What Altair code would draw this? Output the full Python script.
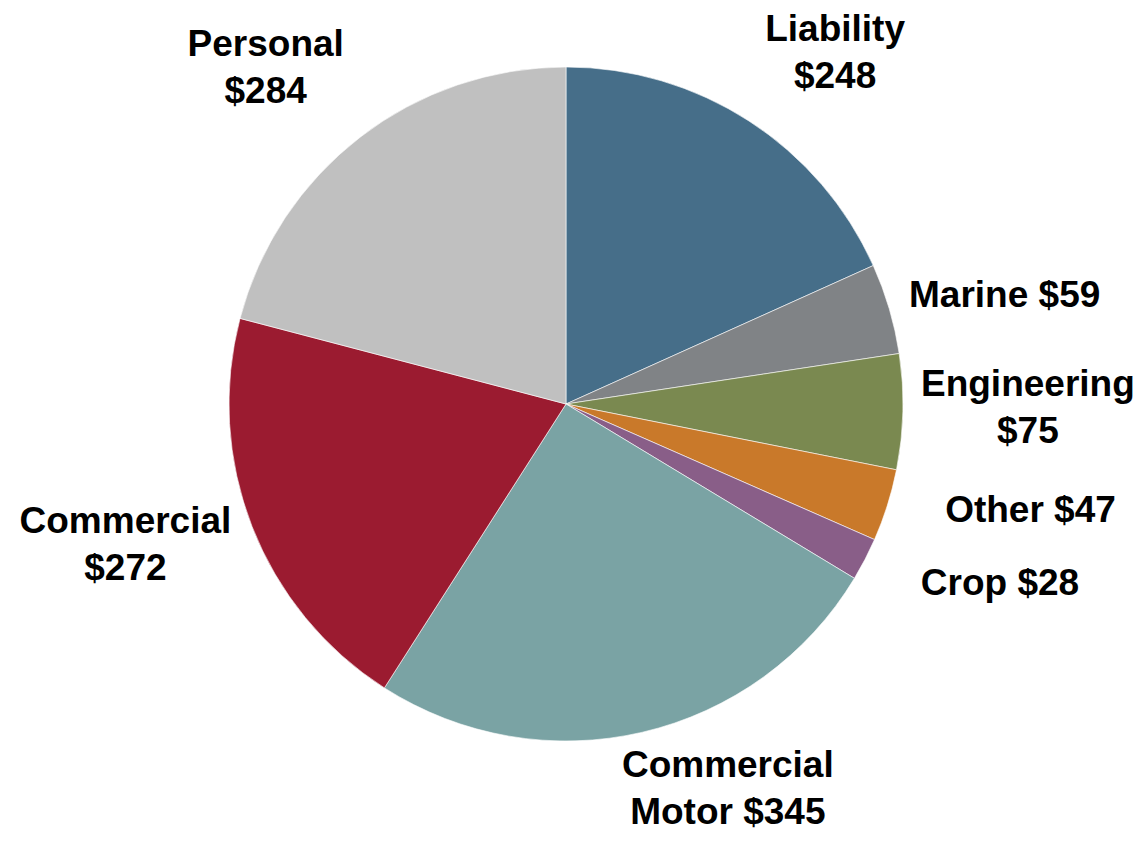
import altair as alt
import pandas as pd

categories = ["Liability", "Marine", "Engineering", "Other", "Crop",
              "Commercial Motor", "Commercial", "Personal"]
values = [248, 59, 75, 47, 28, 345, 272, 284]
labels = [["Liability", "$248"], ["Marine $59"], ["Engineering", "$75"],
          ["Other $47"], ["Crop $28"], ["Commercial", "Motor $345"],
          ["Commercial", "$272"], ["Personal", "$284"]]
colors = ["#466E89", "#808386", "#7A8950", "#C9792A", "#895E88",
          "#7AA3A4", "#9B1B30", "#C0C0C0"]

df = pd.DataFrame({
    "category": categories,
    "value": values,
    "idx": list(range(len(categories))),
    "label": labels,
})

total = sum(values)

# label offsets (style only): dx, dy from the slice mid-angle point at radius 400
offsets = {
    "Liability": (52, -38),
    "Marine": (55, 5),
    "Engineering": (62, -28),
    "Other": (83, -13),
    "Crop": (79, -4),
    "Commercial Motor": (71, -28),
    "Commercial": (-68, -28),
    "Personal": (-56, -42),
}

CX, CY = 558, 396

base = alt.Chart(df)

pie = base.mark_arc(outerRadius=337, stroke="white", strokeWidth=0.6).encode(
    theta=alt.Theta("value:Q", stack=True, scale=alt.Scale(domain=[0, total])),
    color=alt.Color("category:N", scale=alt.Scale(domain=categories, range=colors), legend=None),
    order=alt.Order("idx:Q"),
    x=alt.value(CX),
    y=alt.value(CY),
)

label_layers = []
for cat, (dx, dy) in offsets.items():
    layer = base.transform_window(
        cum="sum(value)", sort=[alt.SortField("idx", order="ascending")]
    ).transform_calculate(
        mid="datum.cum - datum.value / 2"
    ).transform_filter(
        alt.datum.category == cat
    ).mark_text(
        font="Liberation Sans", fontWeight="bold", fontSize=37,
        lineHeight=47, align="center", baseline="middle", color="black",
        dx=dx, dy=dy,
    ).encode(
        theta=alt.Theta("mid:Q", scale=alt.Scale(domain=[0, total])),
        radius=alt.value(400),
        x=alt.value(CX),
        y=alt.value(CY),
        text="label",
    )
    label_layers.append(layer)

chart = alt.layer(pie, *label_layers).properties(
    width=1131, height=826, padding=0,
    autosize=alt.AutoSizeParams(type="none"),
).configure_view(strokeWidth=0)

chart.save("out.html", embed_options={"renderer": "svg", "actions": False})
